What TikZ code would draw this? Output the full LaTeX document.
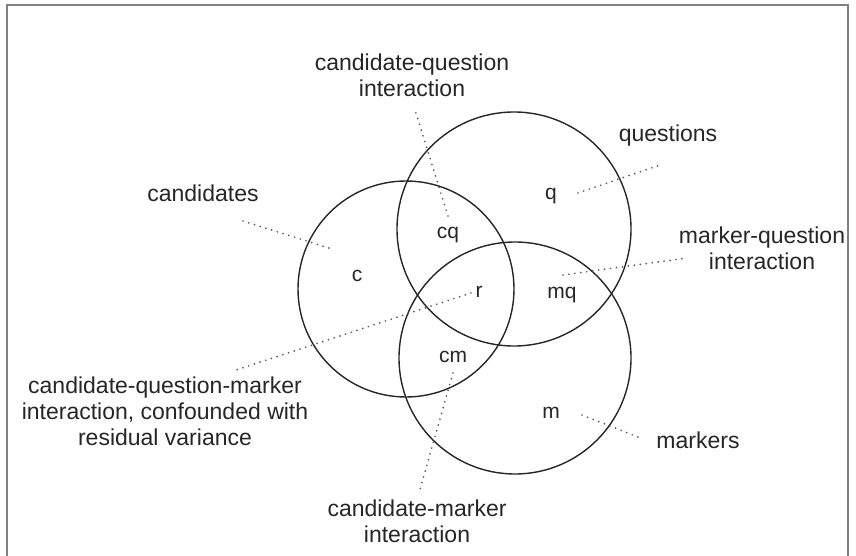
\documentclass[tikz,border=0pt]{standalone}
\usepackage{fontspec}
\setmainfont{Liberation Sans}
\usetikzlibrary{calc}
\tikzset{ring/.style={draw=black!85, line width=1.4pt},
    leader/.style={draw=black!65, line width=1.9pt, dash pattern=on 0pt off 6pt, line cap=round},
    area label/.style={anchor=base, inner sep=0pt, text=black!85, font=\fontsize{21}{25}\selectfont},
    outer label/.style={align=center, inner sep=0pt, text=black!85, font=\fontsize{23}{26}\selectfont},
    frame/.style={draw=black!50, line width=2.4pt}
    }

\begin{document}
\begin{tikzpicture}[x=1pt, y=-1pt]
\useasboundingbox (0,0) rectangle (856,556);
\draw[frame] (7,560) |- (848,5) -- (848,560);

% the three sources of variation
\foreach \cx/\cy/\rad in {406/289/108, 514/229/117, 515/358/116}
  \draw[ring] (\cx,\cy) circle [radius=\rad pt];

% labels inside the regions
\foreach \name/\x/\y in {c/357/281, cq/448/238, q/551/200, r/479/297,
    mq/562/298, cm/453/362, m/551/418}
  \node[area label] (\name) at (\x,\y) {\name};

% labels outside
\node[outer label] (candidates) at (203,193) {candidates};
\node[outer label] (questions) at (668,136) {questions};
\node[outer label] (markers) at (698,440) {markers};
\node[outer label] (cqint) at (412,75) {candidate-question\\interaction};
\node[outer label] (mqint) at (762,248) {marker-question\\interaction};
\node[outer label] (cmint) at (417,521) {candidate-marker\\interaction};
\node[outer label] (cqmint) at (165,411) {candidate-question-marker\\interaction, confounded with\\residual variance};

\draw[leader] ([shift={(0,-22)}]cq.base) -- ([shift={(3,35)}]cqint.center);
\draw[leader] ([shift={(27,-7)}]q.base) -- ([shift={(-8,29)}]questions.center);
\draw[leader] ([shift={(40,28)}]candidates.center) -- ([shift={(-25,-32)}]c.base);
\draw[leader] ([shift={(1,-23)}]mq.base) -- ([shift={(-75,10)}]mqint.center);
\draw[leader] ([shift={(-8,-4)}]r.base) -- ([shift={(68,-40)}]cqmint.center);
\draw[leader] ([shift={(0,11)}]cm.base) -- ([shift={(2,-28)}]cmint.center);
\draw[leader] ([shift={(31,-3)}]m.base) -- ([shift={(-55,-1)}]markers.center);
\end{tikzpicture}
\end{document}
